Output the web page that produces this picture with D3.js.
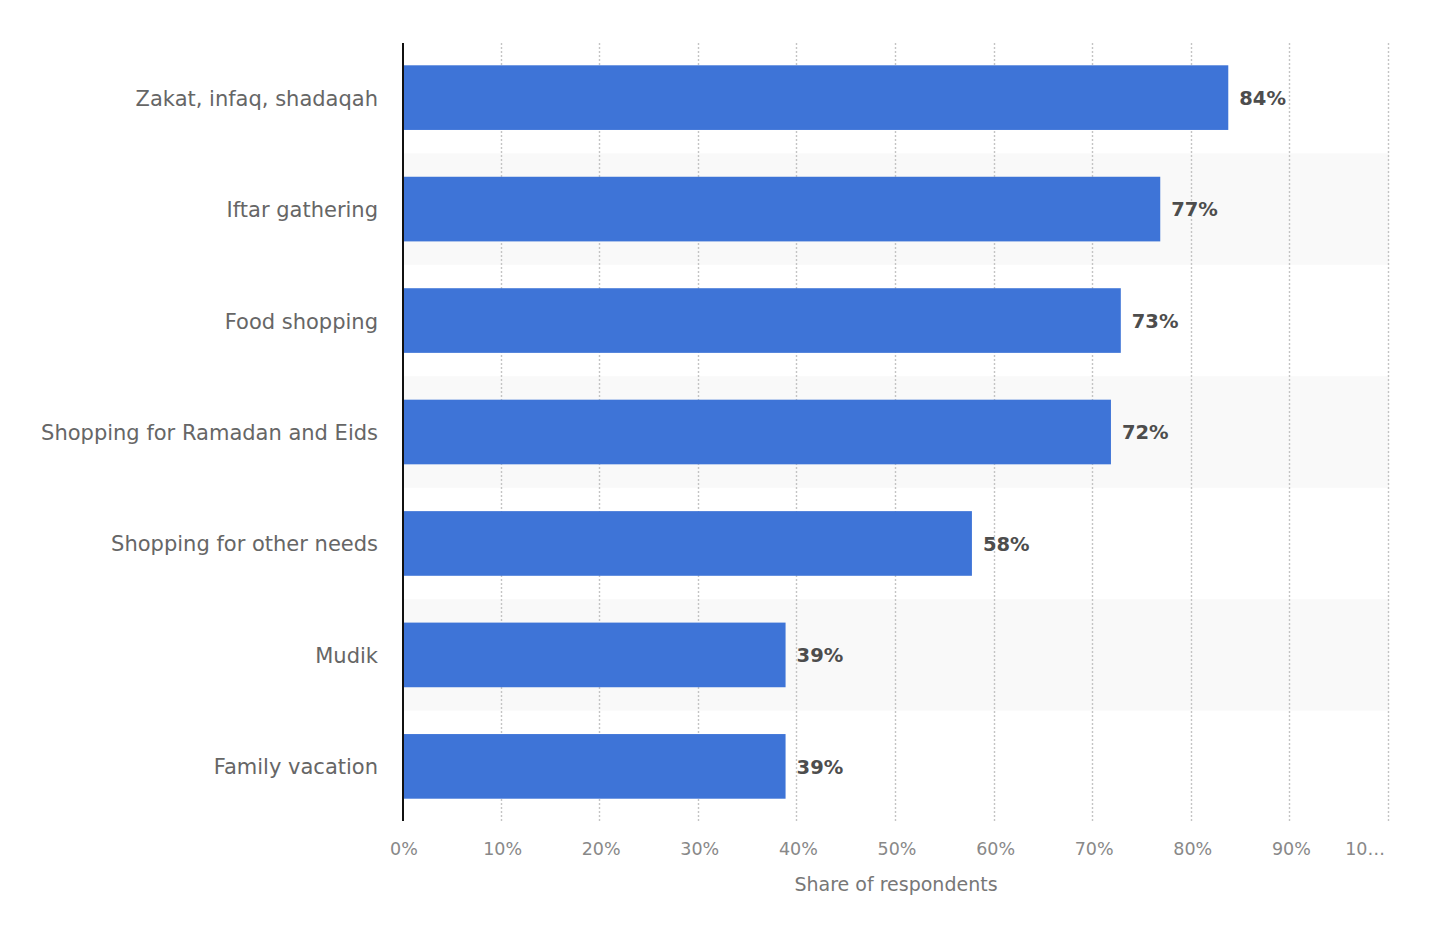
<!DOCTYPE html>
<html>
<head>
<meta charset="utf-8">
<script src="https://cdn.jsdelivr.net/npm/d3@7"></script>
<style>
  html, body { margin: 0; padding: 0; background: #fff; }
  svg { display: block; font-family: "DejaVu Sans", Verdana, sans-serif; }
</style>
</head>
<body>
<svg id="chart" width="1438" height="930"></svg>
<script>
const categories = ["Zakat, infaq, shadaqah", "Iftar gathering", "Food shopping", "Shopping for Ramadan and Eids", "Shopping for other needs", "Mudik", "Family vacation"];
const values = [83.7, 76.8, 72.8, 71.8, 57.7, 38.8, 38.8];
const valueLabels = ["84%", "77%", "73%", "72%", "58%", "39%", "39%"];
const tickValues = [0, 10, 20, 30, 40, 50, 60, 70, 80, 90, 100];
const tickLabels = ["0%", "10%", "20%", "30%", "40%", "50%", "60%", "70%", "80%", "90%", "10…"];
const axisTitle = "Share of respondents";

const svg = d3.select("#chart");
const margin = { left: 403, top: 43, right: 49, bottom: 109 };
const W = 1438, H = 930;
const x0 = margin.left, x1 = W - margin.right;
const y0 = margin.top, y1 = H - margin.bottom;

const x = d3.scaleLinear().domain([0, 100]).range([x0, x1]);
const y = d3.scaleBand().domain(categories).range([y0, y1]).paddingInner(0.42).paddingOuter(0.2);
const step = y.step();

// alternating row bands
svg.append("g").selectAll("rect")
  .data(categories.filter((d, i) => i % 2 === 1))
  .join("rect")
  .attr("x", x0)
  .attr("width", x1 - x0)
  .attr("y", d => y(d) - y.paddingInner() * step / 2)
  .attr("height", step)
  .attr("fill", "#f9f9f9");

// grid lines
svg.append("g").selectAll("line")
  .data(tickValues.filter(v => v > 0))
  .join("line")
  .attr("x1", d => Math.round(x(d)) - 0.5)
  .attr("x2", d => Math.round(x(d)) - 0.5)
  .attr("y1", y0)
  .attr("y2", y1)
  .attr("stroke", "#c4c4c4")
  .attr("stroke-width", 1.4)
  .attr("stroke-dasharray", "2,2");

// bars
svg.append("g").selectAll("rect")
  .data(categories)
  .join("rect")
  .attr("x", x(0))
  .attr("y", d => y(d))
  .attr("width", (d, i) => x(values[i]) - x(0))
  .attr("height", y.bandwidth())
  .attr("fill", "#3e74d7");

// value labels
svg.append("g").selectAll("text")
  .data(categories)
  .join("text")
  .attr("x", (d, i) => x(values[i]) + 11)
  .attr("y", d => y(d) + y.bandwidth() / 2)
  .attr("dy", "0.38em")
  .attr("font-size", 19.5)
  .attr("font-weight", "bold")
  .attr("fill", "#4d4d4d")
  .text((d, i) => valueLabels[i]);

// category labels
svg.append("g").selectAll("text")
  .data(categories)
  .join("text")
  .attr("x", x0 - 25)
  .attr("y", d => y(d) + y.bandwidth() / 2)
  .attr("dy", "0.38em")
  .attr("text-anchor", "end")
  .attr("font-size", 21)
  .attr("fill", "#666")
  .text(d => d);

// y axis line
svg.append("line")
  .attr("x1", x0).attr("x2", x0)
  .attr("y1", y0).attr("y2", y1)
  .attr("stroke", "#111")
  .attr("stroke-width", 2);

// x tick labels
svg.append("g").selectAll("text")
  .data(tickValues)
  .join("text")
  .attr("x", (d, i) => i === tickValues.length - 1 ? x(d) - 4 : x(d) + 1)
  .attr("y", 849)
  .attr("dy", "0.36em")
  .attr("text-anchor", (d, i) => i === tickValues.length - 1 ? "end" : "middle")
  .attr("font-size", 17.5)
  .attr("fill", "#888")
  .text((d, i) => tickLabels[i]);

// axis title
svg.append("text")
  .attr("x", (x0 + x1) / 2)
  .attr("y", 884)
  .attr("dy", "0.36em")
  .attr("text-anchor", "middle")
  .attr("font-size", 19)
  .attr("fill", "#777")
  .text(axisTitle);
</script>
</body>
</html>
